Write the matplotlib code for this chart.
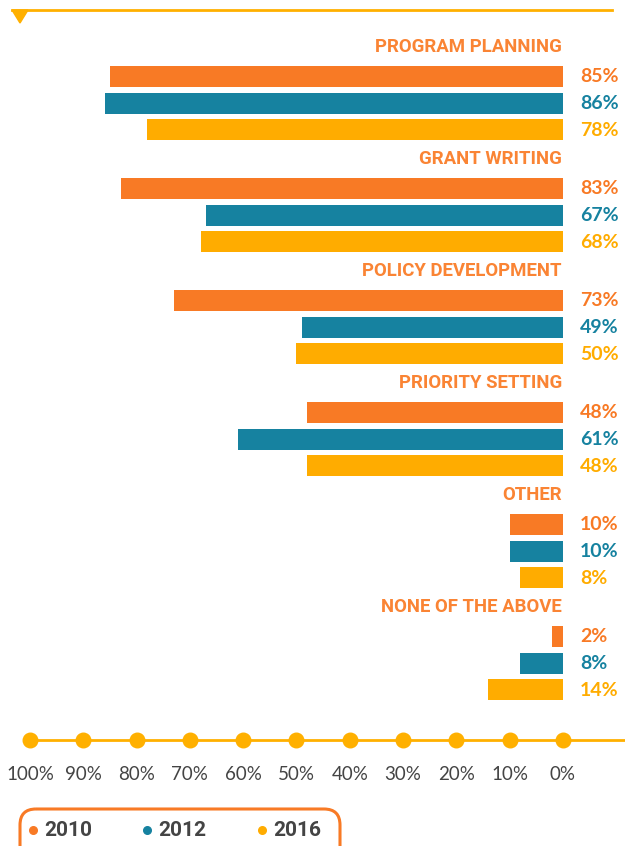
import matplotlib.pyplot as plt
from matplotlib.patches import FancyBboxPatch, Polygon

# data
categories = ['PROGRAM PLANNING', 'GRANT WRITING', 'POLICY DEVELOPMENT',
              'PRIORITY SETTING', 'OTHER', 'NONE OF THE ABOVE']
years = ['2010', '2012', '2016']
v2010 = [85, 83, 73, 48, 10, 2]
v2012 = [86, 67, 49, 61, 10, 8]
v2016 = [78, 68, 50, 48, 8, 14]
ticks = [100, 90, 80, 70, 60, 50, 40, 30, 20, 10, 0]

colors = ['#F87A25', '#1682A0', '#FFAC00']
gray = '#444444'

W, H = 625, 846
fig = plt.figure(figsize=(W / 100, H / 100), dpi=100)

# main axes: x in percent (reversed), y in pixel rows
ax = fig.add_axes([0, 0, 1, 1])
px = 5.33     # pixels per percent
x0 = 563      # pixel where 0% sits
ax.set_xlim(x0 / px, -(W - x0) / px)
ax.set_ylim(H, 0)
ax.axis('off')

top = 47
pitch = 112
row = 26.5
series = [v2010, v2012, v2016]
for g, cat in enumerate(categories):
    ylab = top + g * pitch
    ax.text(0.2, ylab, cat, ha='right', va='center', fontsize=13.4,
            fontweight='bold', color='#FA8434', family='Roboto')
    for i, vals in enumerate(series):
        y = ylab + 30 + i * row
        ax.barh(y, vals[g], height=21, left=0, color=colors[i])
        ax.text(-3.2, y, f'{vals[g]}%', ha='left', va='center',
                fontsize=14, fontweight='bold', color=colors[i],
                family='Lato')

# bottom axis with dots
yaxis = 740
ax.plot([101, -12], [yaxis, yaxis], color='#FFB000', lw=2, zorder=1)
ax.scatter(ticks, [yaxis] * len(ticks), s=110, color='#FFB000', zorder=2)
for t in ticks:
    ax.text(t, 775, f'{t}%', ha='center', va='center', fontsize=13.5,
            color=gray, family='Lato')

# decorations in pixel coordinates
deco = fig.add_axes([0, 0, 1, 1])
deco.set_xlim(0, W)
deco.set_ylim(H, 0)
deco.axis('off')
deco.plot([12, 612], [10, 10], color='#FFB000', lw=2)
deco.add_patch(Polygon([[12, 10], [28, 10], [20, 23]], closed=True,
                       color='#FFB000'))

deco.add_patch(FancyBboxPatch((20, 809), 320, 60,
                              boxstyle='round,pad=0,rounding_size=16',
                              fill=False, ec=colors[0], lw=2.2))
leg_x = [33, 147, 262]
for i, yr in enumerate(years):
    deco.scatter(leg_x[i], 830, s=30, color=colors[i])
    deco.text(leg_x[i] + 11, 830, yr, ha='left', va='center', fontsize=15,
              fontweight='bold', color=gray, family='Roboto')

fig.savefig('out.png', dpi=100)
